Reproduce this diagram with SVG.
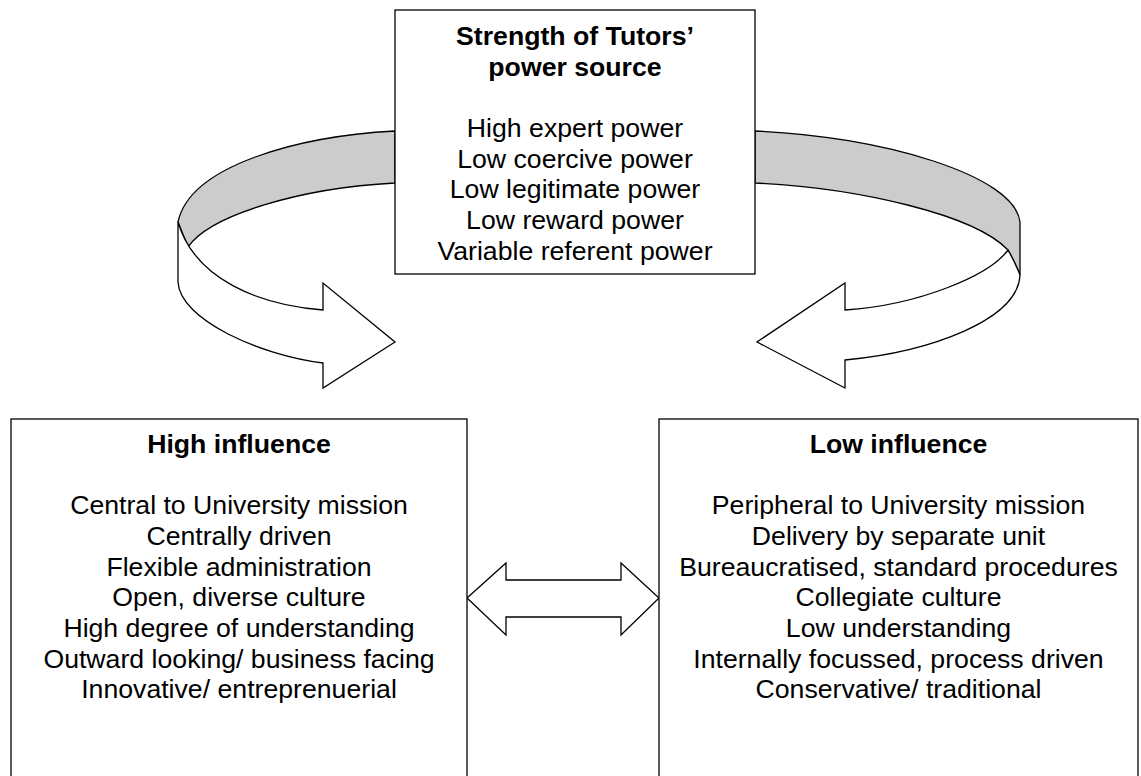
<svg xmlns="http://www.w3.org/2000/svg" width="1141" height="776" viewBox="0 0 1141 776">
  <style>
    .box { fill: #ffffff; stroke: #000000; stroke-width: 1.3; }
    .shape { fill: #ffffff; stroke: #000000; stroke-width: 1.3; stroke-linejoin: miter; }
    .back { fill: #cccccc; stroke: #000000; stroke-width: 1.3; }
    text { font-family: "Liberation Sans", Arial, sans-serif; font-size: 26.67px; fill: #000000; text-anchor: middle; }
    .title { font-weight: bold; }
  </style>
  <rect width="1141" height="776" fill="#ffffff"/>

  <!-- curved arrows and double arrow -->
  <g id="connectors">
    <!-- left ribbon: back band, then front face with arrowhead -->
    <path class="back" d="M395,131 C300,136 190,165 178,222 L188,247 C210,215 300,188 395,183 Z"/>
    <path class="shape" d="M178,222 L178,282 C180,320 260,355 323,363 L323,388 L395,342 L323,283 L323,310 C260,305 195,280 178,222 Z"/>
    <!-- right ribbon -->
    <path class="back" d="M755,131 C880,136 1015,175 1020,222 L1020,275 C1016,265 1012,257 1008,250 C975,215 860,188 755,183 Z"/>
    <path class="shape" d="M1020,275 C1018,320 930,352 845,360 L845,388 L757,342 L845,283 L845,310 C920,305 990,275 1008,250 C1012,257 1016,265 1020,275 Z"/>
    <!-- two-way arrow between the lower boxes -->
    <path class="shape" d="M467,598 L506,563 L506,580 L621,580 L621,563 L659,598 L621,635 L621,617 L506,617 L506,635 Z"/>
  </g>

  <g id="power-source">
    <rect class="box" x="395" y="10" width="360" height="264"/>
    <text class="title" x="575" y="45">Strength of Tutors’</text>
    <text class="title" x="575" y="75.7">power source</text>
    <text x="575" y="137">High expert power</text>
    <text x="575" y="167.7">Low coercive power</text>
    <text x="575" y="198.3">Low legitimate power</text>
    <text x="575" y="229">Low reward power</text>
    <text x="575" y="259.7">Variable referent power</text>
  </g>

  <g id="high-influence">
    <rect class="box" x="11" y="419" width="456" height="380"/>
    <text class="title" x="239" y="453">High influence</text>
    <text x="239" y="514.3">Central to University mission</text>
    <text x="239" y="545">Centrally driven</text>
    <text x="239" y="575.7">Flexible administration</text>
    <text x="239" y="606.3">Open, diverse culture</text>
    <text x="239" y="637">High degree of understanding</text>
    <text x="239" y="667.7">Outward looking/ business facing</text>
    <text x="239" y="698.3">Innovative/ entreprenuerial</text>
  </g>

  <g id="low-influence">
    <rect class="box" x="659" y="419" width="479" height="380"/>
    <text class="title" x="898.5" y="453">Low influence</text>
    <text x="898.5" y="514.3">Peripheral to University mission</text>
    <text x="898.5" y="545">Delivery by separate unit</text>
    <text x="898.5" y="575.7">Bureaucratised, standard procedures</text>
    <text x="898.5" y="606.3">Collegiate culture</text>
    <text x="898.5" y="637">Low understanding</text>
    <text x="898.5" y="667.7">Internally focussed, process driven</text>
    <text x="898.5" y="698.3">Conservative/ traditional</text>
  </g>
</svg>
